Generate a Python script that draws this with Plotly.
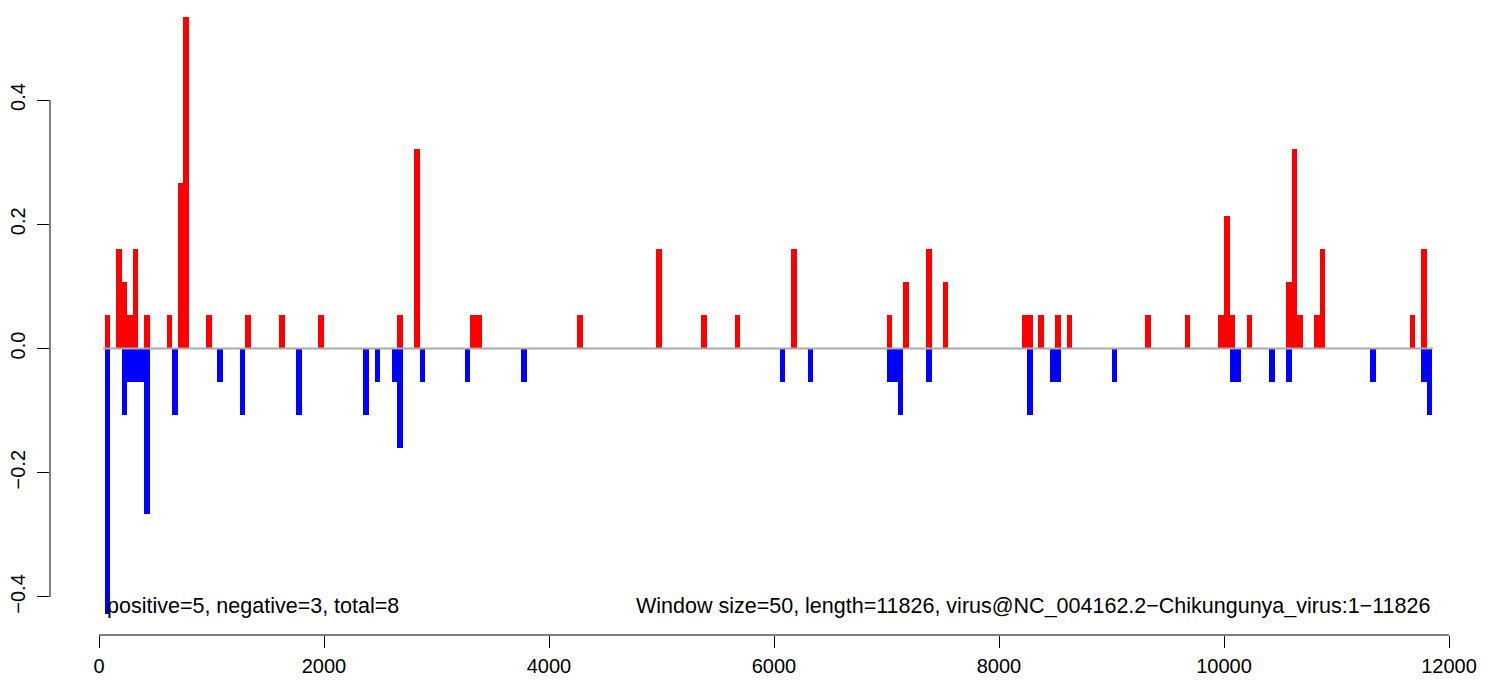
import plotly.graph_objects as go

# ---- data ----
window_size = 50
seq_length = 11826

pos_starts = [50, 150, 200, 250, 300, 400, 600, 700, 750, 950, 1300, 1600, 1950,
              2650, 2800, 3300, 3350, 4250, 4950, 5350, 5650, 6150, 7000, 7150,
              7350, 7500, 8200, 8250, 8350, 8500, 8600, 9300, 9650, 9950, 10000,
              10050, 10200, 10550, 10600, 10650, 10800, 10850, 11650, 11750]
pos_values = [0.0534, 0.1603, 0.1068, 0.0534, 0.1603, 0.0534, 0.0534, 0.2671, 0.5342,
              0.0534, 0.0534, 0.0534, 0.0534, 0.0534, 0.3205, 0.0534, 0.0534, 0.0534,
              0.1603, 0.0534, 0.0534, 0.1603, 0.0534, 0.1068, 0.1603, 0.1068, 0.0534,
              0.0534, 0.0534, 0.0534, 0.0534, 0.0534, 0.0534, 0.0534, 0.2137, 0.0534,
              0.0534, 0.1068, 0.3205, 0.0534, 0.0534, 0.1603, 0.0534, 0.1603]

neg_starts = [50, 200, 250, 300, 350, 400, 650, 1050, 1250, 1750, 2350, 2450, 2600,
              2650, 2850, 3250, 3750, 6050, 6300, 7000, 7050, 7100, 7350, 8250,
              8450, 8500, 9000, 10050, 10100, 10400, 10550, 11300, 11750, 11800]
neg_values = [-0.4274, -0.1068, -0.0534, -0.0534, -0.0534, -0.2671, -0.1068, -0.0534,
              -0.1068, -0.1068, -0.1068, -0.0534, -0.0534, -0.1603, -0.0534, -0.0534,
              -0.0534, -0.0534, -0.0534, -0.0534, -0.0534, -0.1068, -0.0534, -0.1068,
              -0.0534, -0.0534, -0.0534, -0.0534, -0.0534, -0.0534, -0.0534, -0.0534,
              -0.0534, -0.1068]

x_ticks = [0, 2000, 4000, 6000, 8000, 10000, 12000]
x_tick_labels = ["0", "2000", "4000", "6000", "8000", "10000", "12000"]
y_ticks = [-0.4, -0.2, 0.0, 0.2, 0.4]
y_tick_labels = ["\u22120.4", "\u22120.2", "0.0", "0.2", "0.4"]

left_label = "positive=5, negative=3, total=8"
right_label = ("Window size=50, length=11826, "
               "virus@NC_004162.2\u2212Chikungunya_virus:1\u221211826")

FONT = "Liberation Sans, Arial, Helvetica, sans-serif"

fig = go.Figure()
fig.add_trace(go.Bar(
    x=[s + window_size / 2 for s in pos_starts], y=pos_values, width=window_size,
    marker=dict(color="#FF0000", line=dict(width=0)), hoverinfo="skip"))
fig.add_trace(go.Bar(
    x=[s + window_size / 2 for s in neg_starts], y=neg_values, width=window_size,
    marker=dict(color="#0000FF", line=dict(width=0)), hoverinfo="skip"))

all_starts = pos_starts + neg_starts
fig.add_trace(go.Scatter(
    x=[min(all_starts) - 14, max(all_starts) + window_size + 8], y=[0, 0],
    mode="lines", line=dict(color="#A9A9A9", width=2), hoverinfo="skip"))

# R-style axis lines spanning only first..last tick
fig.add_shape(type="line", xref="x", yref="paper", x0=x_ticks[0], x1=x_ticks[-1],
              y0=0, y1=0, line=dict(color="black", width=1))
fig.add_shape(type="line", xref="paper", yref="y", x0=0, x1=0,
              y0=y_ticks[0], y1=y_ticks[-1], line=dict(color="black", width=1))

fig.add_annotation(x=min(all_starts), y=-0.414, xref="x", yref="y", text=left_label,
                   showarrow=False, xanchor="left", yanchor="middle",
                   font=dict(family=FONT, size=21.5, color="black"))
fig.add_annotation(x=max(all_starts) + window_size, y=-0.414, xref="x", yref="y",
                   text=right_label, showarrow=False, xanchor="right", yanchor="middle",
                   font=dict(family=FONT, size=21.5, color="black"))

# page body adds an 8px offset; figure sized to fit the window
fig.update_layout(
    width=1488, height=681,
    margin=dict(l=42, r=11, t=2, b=54),
    paper_bgcolor="white", plot_bgcolor="white",
    barmode="overlay", bargap=0, showlegend=False,
    font=dict(family=FONT, size=20, color="black"),
    xaxis=dict(range=[-435.6, 12320], tickvals=x_ticks, ticktext=x_tick_labels,
               ticks="outside", ticklen=12, tickwidth=1, tickcolor="black",
               showline=False, showgrid=False, zeroline=False, automargin=False,
               tickfont=dict(family=FONT, size=20, color="black"),
               ticklabelstandoff=1),
    yaxis=dict(range=[-0.4612, 0.5449], tickvals=y_ticks, ticktext=y_tick_labels,
               ticks="outside", ticklen=12, tickwidth=1, tickcolor="black",
               tickangle=-90, showline=False, showgrid=False, zeroline=False,
               automargin=False,
               tickfont=dict(family=FONT, size=20, color="black"),
               ticklabelstandoff=4),
)

fig.write_html("out.html")
